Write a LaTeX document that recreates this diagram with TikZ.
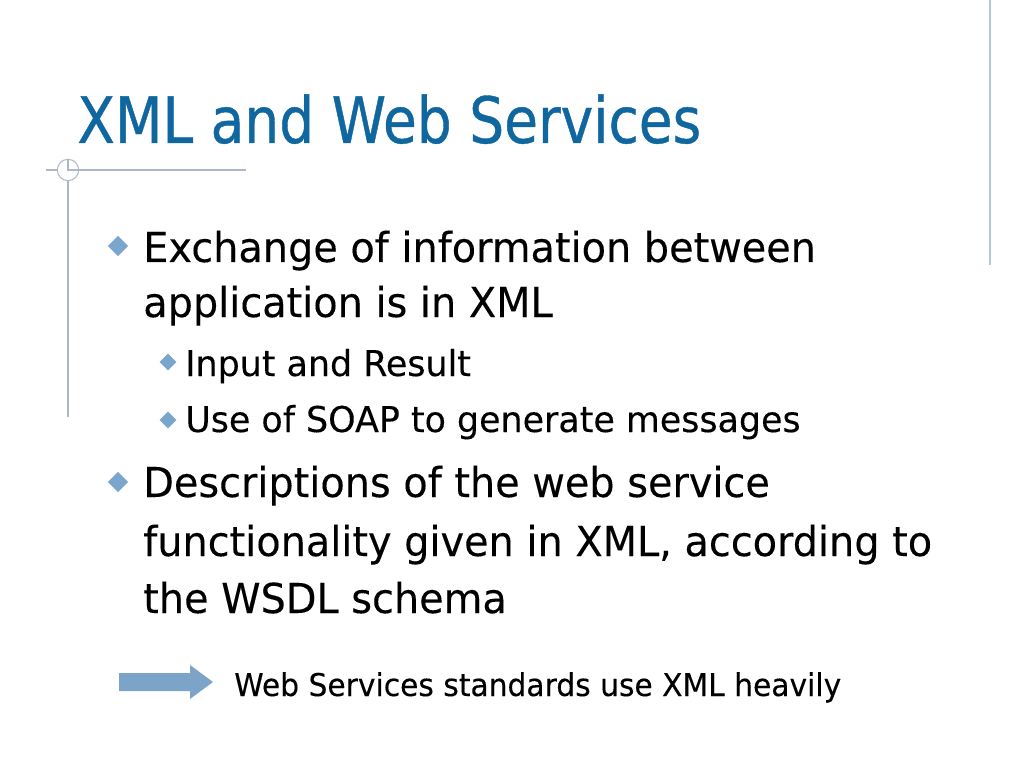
\documentclass[tikz,border=0pt]{standalone}
\usepackage{fontspec}
\setmainfont{DejaVu Sans}
\newfontfamily\titlefont[FakeStretch=0.86, FakeBold=0.6]{DejaVu Sans}
\newfontfamily\bodyfont[FakeStretch=0.965, FakeBold=0.2]{DejaVu Sans}
\newfontfamily\subfont[FakeStretch=0.98, FakeBold=0.2]{DejaVu Sans}
\newfontfamily\notefont[FakeStretch=0.95, FakeBold=0.2]{DejaVu Sans}
\usetikzlibrary{calc, shapes.geometric}
\definecolor{titleblue}{RGB}{16,103,160}
\definecolor{rulegray}{RGB}{172,184,201}
\definecolor{ruleblue}{RGB}{180,200,222}
\definecolor{bulletblue}{RGB}{122,166,205}
\definecolor{arrowblue}{RGB}{124,164,200}

\begin{document}
\begin{tikzpicture}[x=0.703125pt, y=-0.703125pt,
    txt/.style={anchor=base west, inner sep=0pt},
    mainbul/.style={diamond, fill=bulletblue, inner sep=0pt, minimum size=14.5pt},
    subbul/.style={diamond, fill=bulletblue, inner sep=0pt, minimum size=12pt},
    rule/.style={draw=rulegray, line width=0.9pt}]
      \fill[white] (0,0) rectangle (1024,768);
      \useasboundingbox (0,0) rectangle (1024,768);
      \draw[draw=ruleblue, line width=0.9pt] (990,0) -- (990,265);
      \coordinate (hl) at (46,170);
      \coordinate (hr) at (246,170);
      \coordinate (vb) at (68,417);
      \draw[rule] (hl) -- (hr);
      \node[circle, draw=rulegray, fill=white, line width=0.7pt, minimum size=15pt, inner sep=0pt] (ring) at (68,170) {};
      \draw[rule] (ring.north) -- (ring.center) -- (ring.east);
      \draw[rule] (ring.south) -- (vb);
      \node[txt, text=titleblue] (title) at (77,143) {\titlefont\fontsize{45}{54}\selectfont XML and Web Services};
      \node[mainbul] (b1) at (118,246) {};
      \node[txt] (ex1) at (143,262) {\bodyfont\fontsize{29}{35}\selectfont Exchange of information between};
      \node[txt] (ex2) at (143,317) {\bodyfont\fontsize{29}{35}\selectfont application is in XML};
      \node[subbul] (s1) at (168,362) {};
      \node[txt] (in1) at (185,376) {\subfont\fontsize{25}{30}\selectfont Input and Result};
      \node[subbul] (s2) at (168,420) {};
      \node[txt] (so1) at (185,432) {\subfont\fontsize{25}{30}\selectfont Use of SOAP to generate messages};
      \node[mainbul] (b2) at (118,482) {};
      \node[txt] (de1) at (143,497) {\bodyfont\fontsize{29}{35}\selectfont Descriptions of the web service};
      \node[txt] (de2) at (143,556) {\bodyfont\fontsize{29}{35}\selectfont functionality given in XML, according to};
      \node[txt] (de3) at (143,613) {\bodyfont\fontsize{29}{35}\selectfont the WSDL schema};
      \fill[arrowblue] (119,673) -- (190,673) -- (190,665) -- (213,682) -- (190,699) -- (190,691) -- (119,691) -- cycle;
      \node[txt] (note) at (234,696) {\notefont\fontsize{22}{26}\selectfont Web Services standards use XML heavily};
    \end{tikzpicture}
\end{document}
